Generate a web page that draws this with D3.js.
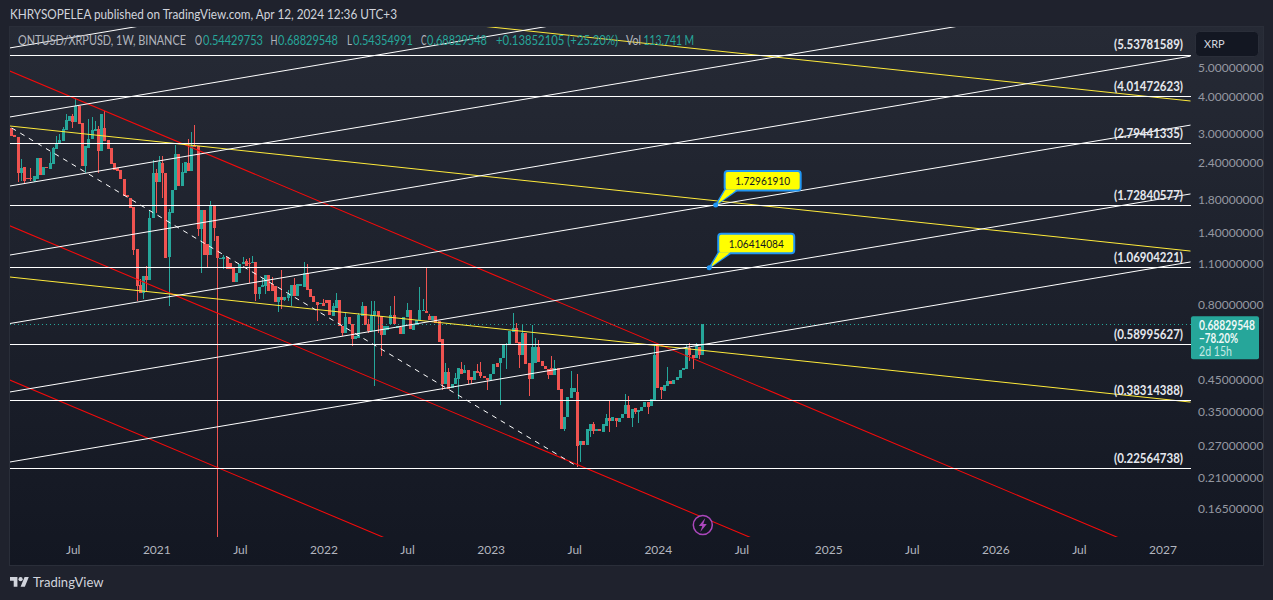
<!DOCTYPE html>
<html><head><meta charset="utf-8">
<script src="https://cdn.jsdelivr.net/npm/d3@7/dist/d3.min.js"></script>
<style>html,body{margin:0;padding:0;background:#1f222d;overflow:hidden}svg{display:block}text{font-family:Lato,"Open Sans",sans-serif}</style>
</head><body><svg id="c" width="1273" height="600"></svg>
<script>
const lastBar = "2024-04-08";
const opens = [3.14,2.98,2.93,2.22,2.33,2.14,2.14,2.09,2.12,2.49,
2.19,2.33,2.29,2.38,2.67,2.78,2.84,3.10,3.32,3.45,
3.29,3.73,3.27,2.34,2.69,2.89,3.07,3.12,2.63,3.14,
2.87,2.69,2.40,2.31,2.27,2.11,1.87,1.83,1.70,1.23,
.934,.878,1.00,.97,1.56,2.21,2.06,2.40,2.22,1.16,
1.63,1.95,2.57,2.01,2.21,2.40,2.25,2.73,2.73,1.44,
1.66,1.28,1.18,1.73,1.36,1.14,1.14,1.16,1.107,1.066,
.956,1.025,1.098,1.124,1.107,1.107,1.115,.871,.92,.927,
1.01,.941,.927,.819,.851,.832,.845,.858,.934,.858,
.927,.92,1.02,.905,.858,.819,.807,.813,.832,.832,
.735,.782,.832,.681,.644,.729,.691,.616,.62,.735,
.794,.691,.654,.74,.764,.735,.635,.66,.691,.74,
.67,.675,.64,.729,.77,.66,.686,.712,.764,.764,
.735,.712,.735,.707,.616,.435,.477,.421,.435,.452,
.488,.473,.484,.459,.448,.48,.477,.462,.455,.448,
.469,.511,.511,.531,.588,.592,.649,.67,.601,.541,
.644,.511,.452,.511,.579,.519,.50,.488,.492,.466,
.492,.418,.307,.337,.39,.408,.408,.271,.28,.271,
.302,.317,.302,.305,.30,.314,.332,.326,.334,.324,
.334,.345,.369,.332,.361,.35,.353,.364,.378,.367,
.384,.583,.425,.412,.428,.445,.435,.448,.455,.484,
.488,.574,.541,.531,.579,.54429753];
const closes = [2.96,2.93,2.22,2.31,2.09,2.11,2.11,2.16,2.49,2.19,
2.33,2.31,2.40,2.69,2.78,2.87,3.12,3.34,3.45,3.29,
3.73,3.24,2.34,2.73,2.89,3.10,3.12,2.63,3.51,2.84,
2.67,2.38,2.27,2.25,2.11,1.86,1.84,1.69,1.22,.927,
.878,1.00,.97,1.57,2.21,2.06,2.42,2.21,1.15,1.64,
1.95,2.57,2.01,2.24,2.42,2.25,2.73,2.71,1.44,1.66,
1.18,1.18,1.73,1.45,1.15,1.15,1.16,1.058,1.058,.956,
1.025,1.098,1.115,1.082,1.098,1.115,.871,.92,.934,1.01,
.892,.892,.819,.851,.832,.851,.871,.934,.858,.941,
.941,1.02,.898,.851,.819,.80,.813,.794,.813,.74,
.794,.832,.681,.644,.729,.691,.616,.63,.74,.794,
.686,.654,.74,.764,.735,.635,.681,.681,.74,.691,
.681,.64,.729,.77,.665,.686,.712,.77,.77,.752,
.712,.735,.696,.601,.435,.477,.418,.435,.455,.492,
.469,.484,.448,.448,.48,.473,.462,.455,.448,.469,
.507,.496,.531,.592,.592,.654,.67,.597,.541,.644,
.507,.452,.579,.579,.515,.50,.488,.466,.466,.492,
.415,.307,.337,.393,.421,.421,.269,.28,.271,.305,
.317,.302,.305,.302,.317,.334,.326,.337,.326,.334,
.345,.369,.332,.358,.35,.355,.364,.378,.364,.387,
.541,.421,.415,.431,.445,.435,.448,.459,.484,.492,
.574,.541,.531,.583,.541,.68829548];
const highs = [3.14,2.98,2.93,2.47,2.33,2.14,2.31,2.16,2.49,2.49,
2.33,2.33,2.61,2.71,2.96,3.00,3.17,3.51,3.45,3.51,
3.96,3.73,3.27,2.73,3.37,3.42,3.32,3.19,3.51,3.585,
2.87,2.69,2.40,2.31,2.27,2.11,1.87,1.83,1.70,1.23,
.977,1.00,1.08,1.655,2.46,2.29,2.53,2.53,2.22,1.68,
1.95,2.75,2.57,2.40,2.42,2.89,3.05,3.22,2.73,1.66,
1.66,1.28,1.79,1.73,1.36,1.15,1.18,1.16,1.107,1.066,
1.025,1.098,1.16,1.14,1.15,1.17,1.115,.92,.985,1.01,
1.01,.992,.927,.851,1.05,.851,.898,.934,.985,.941,
.941,1.115,1.098,.905,.858,.819,.813,.838,.832,.832,
.813,.878,.832,.681,.752,.729,.691,.63,.752,.819,
.794,.718,.825,.825,.764,.735,.681,.681,.794,.858,
.681,.675,.729,.813,.77,.686,.712,.92,.838,1.066,
.746,.735,.735,.707,.616,.511,.492,.435,.473,.492,
.515,.503,.484,.459,.48,.507,.515,.462,.455,.469,
.507,.511,.531,.592,.597,.654,.752,.696,.601,.686,
.644,.511,.686,.62,.611,.519,.50,.488,.5395,.523,
.492,.418,.337,.393,.48,.421,.469,.28,.28,.305,
.317,.324,.305,.305,.317,.345,.384,.337,.334,.334,
.345,.402,.396,.358,.361,.355,.364,.378,.378,.387,
.592,.583,.425,.431,.496,.445,.448,.459,.484,.492,
.592,.597,.541,.597,.579,.68829548];
const lows = [2.96,2.93,2.06,2.09,2.04,2.11,2.09,2.06,2.12,2.19,
2.19,2.31,2.29,2.38,2.67,2.78,2.84,3.10,3.32,3.14,
3.29,3.24,2.34,2.22,2.69,2.89,3.07,2.21,2.63,2.84,
2.67,2.38,2.27,2.25,2.11,1.86,1.84,1.69,1.18,.825,
.878,.838,.892,.97,1.56,1.63,2.06,1.83,1.15,.794,
1.63,1.95,2.01,2.01,2.21,2.25,2.25,2.71,1.36,1.025,
1.18,1.074,1.18,1.31,.132,1.14,1.058,1.058,1.058,.956,
.956,1.025,1.098,1.082,.949,1.107,.825,.838,.92,.871,
.892,.892,.819,.758,.776,.825,.825,.794,.858,.858,
.927,.92,.898,.851,.819,.707,.807,.794,.813,.74,
.735,.782,.681,.63,.644,.691,.583,.616,.62,.735,
.686,.644,.654,.428,.644,.5395,.635,.66,.691,.691,
.67,.64,.64,.729,.665,.66,.686,.712,.764,.752,
.712,.712,.696,.601,.415,.435,.418,.421,.435,.387,
.469,.473,.435,.435,.448,.473,.455,.455,.415,.448,
.469,.496,.369,.531,.488,.592,.649,.597,.492,.541,
.507,.396,.452,.511,.515,.50,.488,.452,.466,.466,
.415,.307,.302,.337,.39,.408,.229,.237,.271,.271,
.287,.295,.302,.302,.30,.314,.30,.326,.31,.324,
.334,.345,.332,.31,.345,.321,.353,.364,.345,.367,
.384,.421,.387,.412,.428,.435,.435,.448,.455,.484,
.488,.519,.488,.531,.527,.54354991];

const levels = [5.53781589,4.01472623,2.79441335,1.72840577,1.06904221,0.58995627,0.38314388,0.22564738];
const priceTicks = [5,4,3,2.4,1.8,1.4,1.1,0.8,0.45,0.35,0.27,0.21,0.165];
const timeTicks = ["2020-07-06","2021-01-04","2021-07-05","2022-01-03","2022-07-04","2023-01-02","2023-07-03","2024-01-01","2024-07-01","2025-01-06","2025-07-07","2026-01-05","2026-07-06","2027-01-04"];
const lineStart = "2020-02-20", lineEnd = "2027-03-06";
const whiteStart = [5.83,3.418,2.004,1.175,.692,.4075,.2371];
const whiteEnd   = [27.16,15.93,9.34,5.47,3.21,1.885,1.114];
const yellowStart = [10.16,3.188,.9916];
const yellowEnd   = [3.868,1.212,.3769];
const redStart = [4.878,1.474,.4469];
const redEnd   = [.1044,.03158,.00957];
const dashedFrom = ["2020-02-24",3.14], dashedTo = ["2023-07-10",.229];
const callouts = [["2024-05-06",1.7296191],["2024-04-22",1.06414084]];
const lastPrice = 0.68829548;
const lastPriceTexts = ["0.68829548","\u221278.20%","2d 15h"];
const legendTexts = ["ONTUSD/XRPUSD, 1W, BINANCE","O","0.54429753","H","0.68829548","L","0.54354991","C","0.68829548","+0.13852105 (+25.20%)","Vol","113.741 M"];

const P={l:10,r:1191,t:27,b:537,w:1263,B:565};
const svg=d3.select("#c");
const defs=svg.append("defs");
const g0=defs.append("linearGradient").attr("id","bg").attr("x1",0).attr("x2",0).attr("y1",0).attr("y2",1);
g0.append("stop").attr("offset","0%").attr("stop-color","#262a35");
g0.append("stop").attr("offset","100%").attr("stop-color","#131722");
defs.append("clipPath").attr("id","pane").append("rect").attr("x",P.l).attr("y",P.t).attr("width",P.r-P.l).attr("height",P.b-P.t);

svg.append("rect").attr("x",P.l-1).attr("y",P.t-1).attr("width",P.w-P.l+2).attr("height",P.B-P.t+2).attr("fill","#2a2e39");
svg.append("rect").attr("x",P.l).attr("y",P.t).attr("width",P.w-P.l).attr("height",P.B-P.t).attr("fill","url(#bg)");

const d=s=>new Date(s+"T00:00:00Z");
const x=d3.scaleUtc().domain([d("2021-01-04"),d("2024-01-01")]).range([156.3,657.8]);
const y=d3.scaleLog().domain([5,0.165]).range([67.8,508.9]);

const dates=opens.map((_,i)=>d3.utcWeek.offset(d(lastBar),i-opens.length+1));
const plot=svg.append("g").attr("clip-path","url(#pane)");
const up="#26a69a",down="#ef5350";
const col=i=>closes[i]>=opens[i]?up:down;
const idx=d3.range(opens.length);
plot.append("g").attr("shape-rendering","crispEdges").selectAll("rect").data(idx).join("rect")
 .attr("x",i=>Math.round(x(dates[i])-.5)).attr("width",1)
 .attr("y",i=>y(highs[i])).attr("height",i=>Math.max(1,y(lows[i])-y(highs[i]))).attr("fill",col);
plot.append("g").attr("shape-rendering","crispEdges").selectAll("rect").data(idx).join("rect")
 .attr("x",i=>Math.round(x(dates[i])-.5)-1).attr("width",3)
 .attr("y",i=>y(Math.max(opens[i],closes[i]))).attr("height",i=>Math.max(1,Math.abs(y(opens[i])-y(closes[i])))).attr("fill",col);

plot.append("line").attr("x1",P.l).attr("x2",P.r).attr("y1",y(lastPrice)).attr("y2",y(lastPrice))
 .attr("stroke",up).attr("stroke-width",1).attr("stroke-dasharray","1 3").attr("shape-rendering","crispEdges");

function lines(s,e,color,w){
 plot.append("g").selectAll("line").data(s).join("line")
  .attr("x1",x(d(lineStart))).attr("x2",x(d(lineEnd)))
  .attr("y1",v=>y(v)).attr("y2",(v,i)=>y(e[i])).attr("stroke",color).attr("stroke-width",w);
}
lines(redStart,redEnd,"#f60a0a",1.05);
lines(yellowStart,yellowEnd,"#ffeb3b",1);
lines(whiteStart,whiteEnd,"#ffffff",1);
plot.append("line").attr("x1",x(d(dashedFrom[0]))).attr("y1",y(dashedFrom[1])).attr("x2",x(d(dashedTo[0]))).attr("y2",y(dashedTo[1]))
 .attr("stroke","#ffffff").attr("stroke-width",1).attr("stroke-dasharray","5 5");
plot.append("g").attr("shape-rendering","crispEdges").selectAll("line").data(levels).join("line")
 .attr("x1",P.l).attr("x2",P.r).attr("y1",v=>Math.round(y(v))+.5).attr("y2",v=>Math.round(y(v))+.5).attr("stroke","#ffffff").attr("stroke-width",1);
svg.append("g").selectAll("text").data(levels).join("text")
 .attr("x",1183).attr("y",v=>y(v)-9.5).attr("dy","0.35em").attr("text-anchor","end")
 .attr("fill","#e6e8ee").attr("font-size",12.5).attr("font-weight",700)
 .attr("textLength",69).attr("lengthAdjust","spacingAndGlyphs")
 .text(v=>"("+v.toFixed(8)+")");

// axes
const yAxis=d3.axisRight(y).tickValues(priceTicks).tickFormat(v=>v.toFixed(8)).tickSize(0).tickPadding(0);
const ya=svg.append("g").attr("transform","translate(1198,0)").call(yAxis);
ya.select(".domain").remove();
ya.selectAll("text").attr("fill","#9598a1").attr("font-size",12).attr("font-family",'Lato,sans-serif');
const xAxis=d3.axisBottom(x).tickValues(timeTicks.map(d)).tickSize(0).tickPadding(0)
 .tickFormat(t=>t.getUTCMonth()===0?String(t.getUTCFullYear()):"Jul");
const xa=svg.append("g").attr("transform","translate(0,545)").call(xAxis);
xa.select(".domain").remove();
xa.selectAll("text").attr("fill","#b2b5be").attr("font-size",12).attr("font-family",'Lato,sans-serif');

// callouts
const cg=svg.append("g").selectAll("g").data(callouts).join("g")
 .attr("transform",c=>`translate(${x(d(c[0]))},${y(c[1])})`);
cg.append("path").attr("d","M0,0L9,-15L22,-15Z").attr("fill","#ffff00").attr("stroke","#2196f3").attr("stroke-width",1.5);
cg.append("rect").attr("x",9).attr("y",-34).attr("width",76).attr("height",19.5).attr("rx",3).attr("fill","#ffff00").attr("stroke","#2196f3").attr("stroke-width",2);
cg.append("path").attr("d","M10,-15.5L21,-15.5L2,-1Z").attr("fill","#ffff00");
cg.append("circle").attr("r",2.5).attr("fill","#2196f3");
cg.append("text").attr("x",47).attr("y",-24).attr("dy","0.35em").attr("text-anchor","middle").attr("fill","#131722").attr("font-size",11).attr("font-weight",400)
 .attr("textLength",55).attr("lengthAdjust","spacingAndGlyphs")
 .text(c=>c[1].toFixed(8));

// last price tag
const tag=svg.append("g");
tag.append("rect").attr("x",1191).attr("y",y(lastPrice)-8).attr("width",68).attr("height",43).attr("rx",2).attr("fill",up);
const tagLen=[56,39,33], tagFill=["#eef8f7","#eef8f7","#c4e8e4"], tagWeight=[700,700,400];
lastPriceTexts.forEach((t,i)=>{
 tag.append("text").attr("x",1199).attr("y",y(lastPrice)-8+9+13*i).attr("dy","0.35em").attr("fill",tagFill[i])
  .attr("font-size",12.5).attr("font-weight",tagWeight[i]).attr("textLength",tagLen[i]).attr("lengthAdjust","spacingAndGlyphs").text(t);
});

// XRP box
svg.append("rect").attr("x",1195.5).attr("y",31.5).attr("width",63).attr("height",25).attr("rx",4).attr("fill","#131722").attr("stroke","#2a2e39");
svg.append("text").attr("x",1204).attr("y",44).attr("dy","0.35em").attr("fill","#d1d4dc").attr("font-size",11).text("XRP");

// lightning
const bolt=svg.append("g").attr("transform",`translate(${x(d("2024-04-08"))},525)`);
bolt.append("circle").attr("r",9.5).attr("fill","#131722").attr("stroke","#ab47bc").attr("stroke-width",1.5);
bolt.append("path").attr("d","M2.5,-7L-4,1L-0.5,1L-2.5,7L4,-1L0.5,-1Z").attr("fill","#ab47bc");

// legend, title, logo
const legX=[18,195,203,270.6,278,347,353,421,427,496,626,643.6];
const legW=[168,7,60,7,60,5,60,5.5,60,122,15,50.5];
const legC=["#b2b5be","#b2b5be","#26a69a","#b2b5be","#26a69a","#b2b5be","#26a69a","#b2b5be","#26a69a","#26a69a","#b2b5be","#26a69a"];
svg.append("g").selectAll("text").data(legendTexts).join("text")
 .attr("x",(t,i)=>legX[i]).attr("y",41).attr("dy","0.35em").attr("fill",(t,i)=>legC[i]).attr("font-size",12.5)
 .attr("textLength",(t,i)=>legW[i]).attr("lengthAdjust","spacingAndGlyphs").text(t=>t);
svg.append("text").attr("x",10).attr("y",14).attr("dy","0.35em").attr("fill","#d1d4dc").attr("font-size",13)
 .attr("textLength",387).attr("lengthAdjust","spacingAndGlyphs").text("KHRYSOPELEA published on TradingView.com, Apr 12, 2024 12:36 UTC+3");
const logo=svg.append("g").attr("transform","translate(10,575) scale(.53)").attr("fill","#d1d4dc");
logo.append("path").attr("d","M14 22H7V11H0V4h14v18zM28 22h-8l7.5-18h8L28 22z");
logo.append("circle").attr("cx",20).attr("cy",8).attr("r",4);
svg.append("text").attr("x",33).attr("y",582).attr("dy","0.35em").attr("fill","#d1d4dc").attr("font-size",14)
 .attr("textLength",70.5).attr("lengthAdjust","spacingAndGlyphs").text("TradingView");
</script></body></html>
